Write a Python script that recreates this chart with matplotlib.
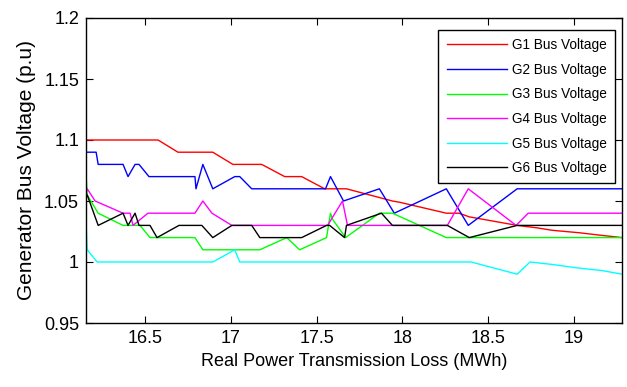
import matplotlib
matplotlib.use("Agg")
import matplotlib.pyplot as plt
from matplotlib.ticker import FuncFormatter

plt.rcParams['font.family'] = ['Liberation Sans', 'DejaVu Sans']

# Generator bus voltages vs real power transmission loss
g1_x = [16.157, 16.576, 16.692, 16.895, 17.012, 17.180, 17.314, 17.413, 17.547, 17.674,
        17.942, 17.983, 18.256, 18.330, 18.390, 18.669, 18.785, 18.872, 19.029, 19.151, 19.28]
g1_y = [1.10, 1.10, 1.09, 1.09, 1.08, 1.08, 1.07, 1.07, 1.06, 1.06,
        1.05, 1.049, 1.04, 1.04, 1.037, 1.030, 1.028, 1.026, 1.024, 1.022, 1.020]

g2_x = [16.157, 16.215, 16.227, 16.372, 16.401, 16.442, 16.465, 16.523, 16.791, 16.797,
        16.837, 16.895, 17.023, 17.052, 17.122, 17.552, 17.581, 17.657, 17.866, 17.953,
        18.256, 18.384, 18.669, 19.28]
g2_y = [1.09, 1.09, 1.08, 1.08, 1.07, 1.08, 1.08, 1.07, 1.07, 1.06,
        1.08, 1.06, 1.07, 1.07, 1.06, 1.06, 1.07, 1.05, 1.06, 1.04,
        1.06, 1.03, 1.06, 1.06]

g3_x = [16.157, 16.163, 16.227, 16.372, 16.471, 16.529, 16.791, 16.837, 17.169, 17.326,
        17.401, 17.558, 17.581, 17.593, 17.669, 17.866, 17.942, 18.256, 19.28]
g3_y = [1.07, 1.055, 1.04, 1.03, 1.03, 1.02, 1.02, 1.01, 1.01, 1.02,
        1.01, 1.02, 1.04, 1.035, 1.02, 1.04, 1.04, 1.02, 1.02]

g4_x = [16.151, 16.163, 16.209, 16.372, 16.413, 16.430, 16.517, 16.791, 16.837, 16.890,
        17.006, 17.564, 17.651, 17.680, 18.262, 18.384, 18.663, 18.733, 19.28]
g4_y = [1.055, 1.06, 1.05, 1.04, 1.04, 1.03, 1.04, 1.04, 1.05, 1.04,
        1.03, 1.03, 1.05, 1.03, 1.03, 1.06, 1.03, 1.04, 1.04]

g5_x = [16.157, 16.163, 16.221, 16.895, 17.023, 17.052, 18.401, 18.669, 18.744, 18.872,
        19.029, 19.163, 19.28]
g5_y = [1.03, 1.01, 1.00, 1.00, 1.01, 1.00, 1.00, 0.99, 1.00, 0.998,
        0.995, 0.993, 0.99]

g6_x = [16.151, 16.163, 16.227, 16.372, 16.401, 16.442, 16.465, 16.529, 16.570, 16.698,
        16.831, 16.895, 17.006, 17.122, 17.169, 17.413, 17.558, 17.576, 17.663, 17.674,
        17.878, 17.942, 18.262, 18.390, 18.669, 19.28]
g6_y = [1.05, 1.055, 1.03, 1.04, 1.03, 1.04, 1.03, 1.03, 1.02, 1.03,
        1.03, 1.02, 1.03, 1.03, 1.02, 1.02, 1.03, 1.03, 1.02, 1.03,
        1.04, 1.03, 1.03, 1.02, 1.03, 1.03]

labels = ['G1 Bus Voltage', 'G2 Bus Voltage', 'G3 Bus Voltage',
          'G4 Bus Voltage', 'G5 Bus Voltage', 'G6 Bus Voltage']
colors = ['#ff0000', '#0000ff', '#00ff00', '#ff00ff', '#00ffff', '#000000']
xticks = [16.5, 17, 17.5, 18, 18.5, 19]
yticks = [0.95, 1.0, 1.05, 1.1, 1.15, 1.2]

fig = plt.figure(figsize=(6.27, 3.87), dpi=100)
ax = fig.add_axes([86 / 627, 64 / 387, 536 / 627, 305 / 387])

series = [(g1_x, g1_y), (g2_x, g2_y), (g3_x, g3_y),
          (g4_x, g4_y), (g5_x, g5_y), (g6_x, g6_y)]
for (xs, ys), c, lab in zip(series, colors, labels):
    ax.plot(xs, ys, color=c, lw=1.0, label=lab)

ax.set_xlim(16.156, 19.28)
ax.set_ylim(0.95, 1.2)
ax.set_xticks(xticks)
ax.set_yticks(yticks)
ax.yaxis.set_major_formatter(FuncFormatter(lambda v, p: '%g' % v))
ax.xaxis.set_major_formatter(FuncFormatter(lambda v, p: '%g' % v))
ax.tick_params(direction='in', top=True, right=True, length=5, width=0.8,
               labelsize=13, pad=5)
for s in ax.spines.values():
    s.set_linewidth(1.0)

ax.set_xlabel('Real Power Transmission Loss (MWh)', fontsize=13, labelpad=4)
ax.set_ylabel('Generator Bus Voltage (p.u)', fontsize=15, labelpad=6)

leg = ax.legend(loc='upper right', bbox_to_anchor=(0.987, 0.961), borderaxespad=0,
                fontsize=9.8, handlelength=4.4, handletextpad=0.4,
                labelspacing=0.78, borderpad=0.6, fancybox=False,
                edgecolor='k', framealpha=1)
leg.get_frame().set_linewidth(1.0)

fig.savefig('out.png', dpi=100)
